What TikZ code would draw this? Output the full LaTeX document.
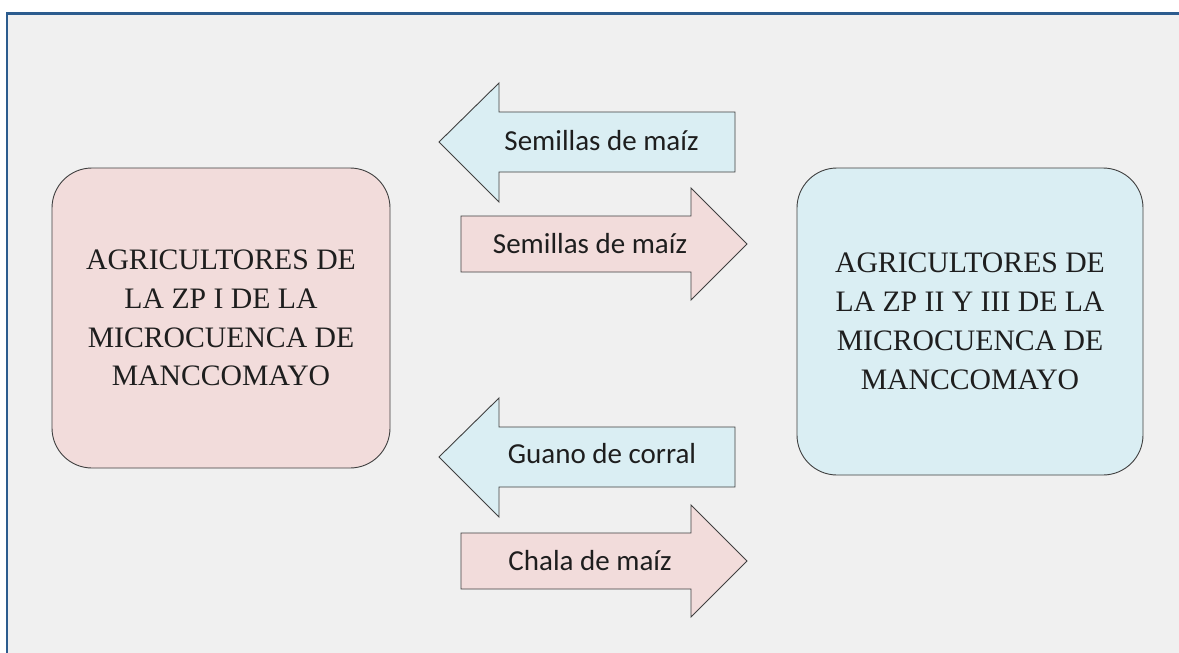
\documentclass[tikz,border=0pt]{standalone}
\usepackage{fontspec}
\setmainfont{Liberation Serif}
\newfontfamily\calfont{Carlito}
\definecolor{framecol}{HTML}{2C5C8E}
\definecolor{bgcol}{HTML}{F0F0F0}
\definecolor{pinkfill}{HTML}{F2DCDB}
\definecolor{bluefill}{HTML}{DAEEF3}
\definecolor{edgecol}{HTML}{404040}
\definecolor{txtcol}{HTML}{1E1E1E}
\tikzset{
  bigbox/.style={draw=edgecol, line width=0.9pt, rounded corners=40pt, align=center,
    text=txtcol, inner sep=0pt, font=\fontsize{29.7}{38.8}\selectfont},
  arrowshape/.style={draw=edgecol, line width=0.9pt, line join=miter},
  arrowtext/.style={anchor=base, text=txtcol, inner sep=0pt, font=\calfont\fontsize{29}{35}\selectfont}
}
\begin{document}
\begin{tikzpicture}[x=1pt,y=-1pt]
\useasboundingbox (0,0) rectangle (1179,653);
\begin{scope}
\clip (0,0) rectangle (1179,653);
\fill[bgcol] (7,13.5) rectangle (1190,670);
\draw[framecol, line width=2.6pt] (7,670) -- (7,13.5) -- (1190,13.5);
\end{scope}

% boxes
\node[bigbox, fill=pinkfill, minimum width=338pt, minimum height=300pt] (left) at (221,318)
  {AGRICULTORES DE\\LA ZP I DE LA\\MICROCUENCA DE\\MANCCOMAYO};
\node[bigbox, fill=bluefill, minimum width=346pt, minimum height=307pt] (right) at (970,321.5)
  {AGRICULTORES DE\\LA ZP II Y III DE LA\\MICROCUENCA DE\\MANCCOMAYO};

% arrows
\draw[arrowshape, fill=bluefill] (439,142) -- (499,83) -- (499,112) -- (735,112) -- (735,172) -- (499,172) -- (499,202) -- cycle;
\node[arrowtext] (a1) at (601.5,150) {Semillas de maíz};

\draw[arrowshape, fill=pinkfill] (461,216) -- (691,216) -- (691,188) -- (747,244) -- (691,300) -- (691,272) -- (461,272) -- cycle;
\node[arrowtext] (a2) at (590,253) {Semillas de maíz};

\draw[arrowshape, fill=bluefill] (439,457) -- (499,398) -- (499,427) -- (735,427) -- (735,487) -- (499,487) -- (499,517) -- cycle;
\node[arrowtext] (a3) at (602,463) {Guano de corral};

\draw[arrowshape, fill=pinkfill] (461,533) -- (691,533) -- (691,505) -- (747,561) -- (691,617) -- (691,589) -- (461,589) -- cycle;
\node[arrowtext] (a4) at (590,570) {Chala de maíz};
\end{tikzpicture}
\end{document}
